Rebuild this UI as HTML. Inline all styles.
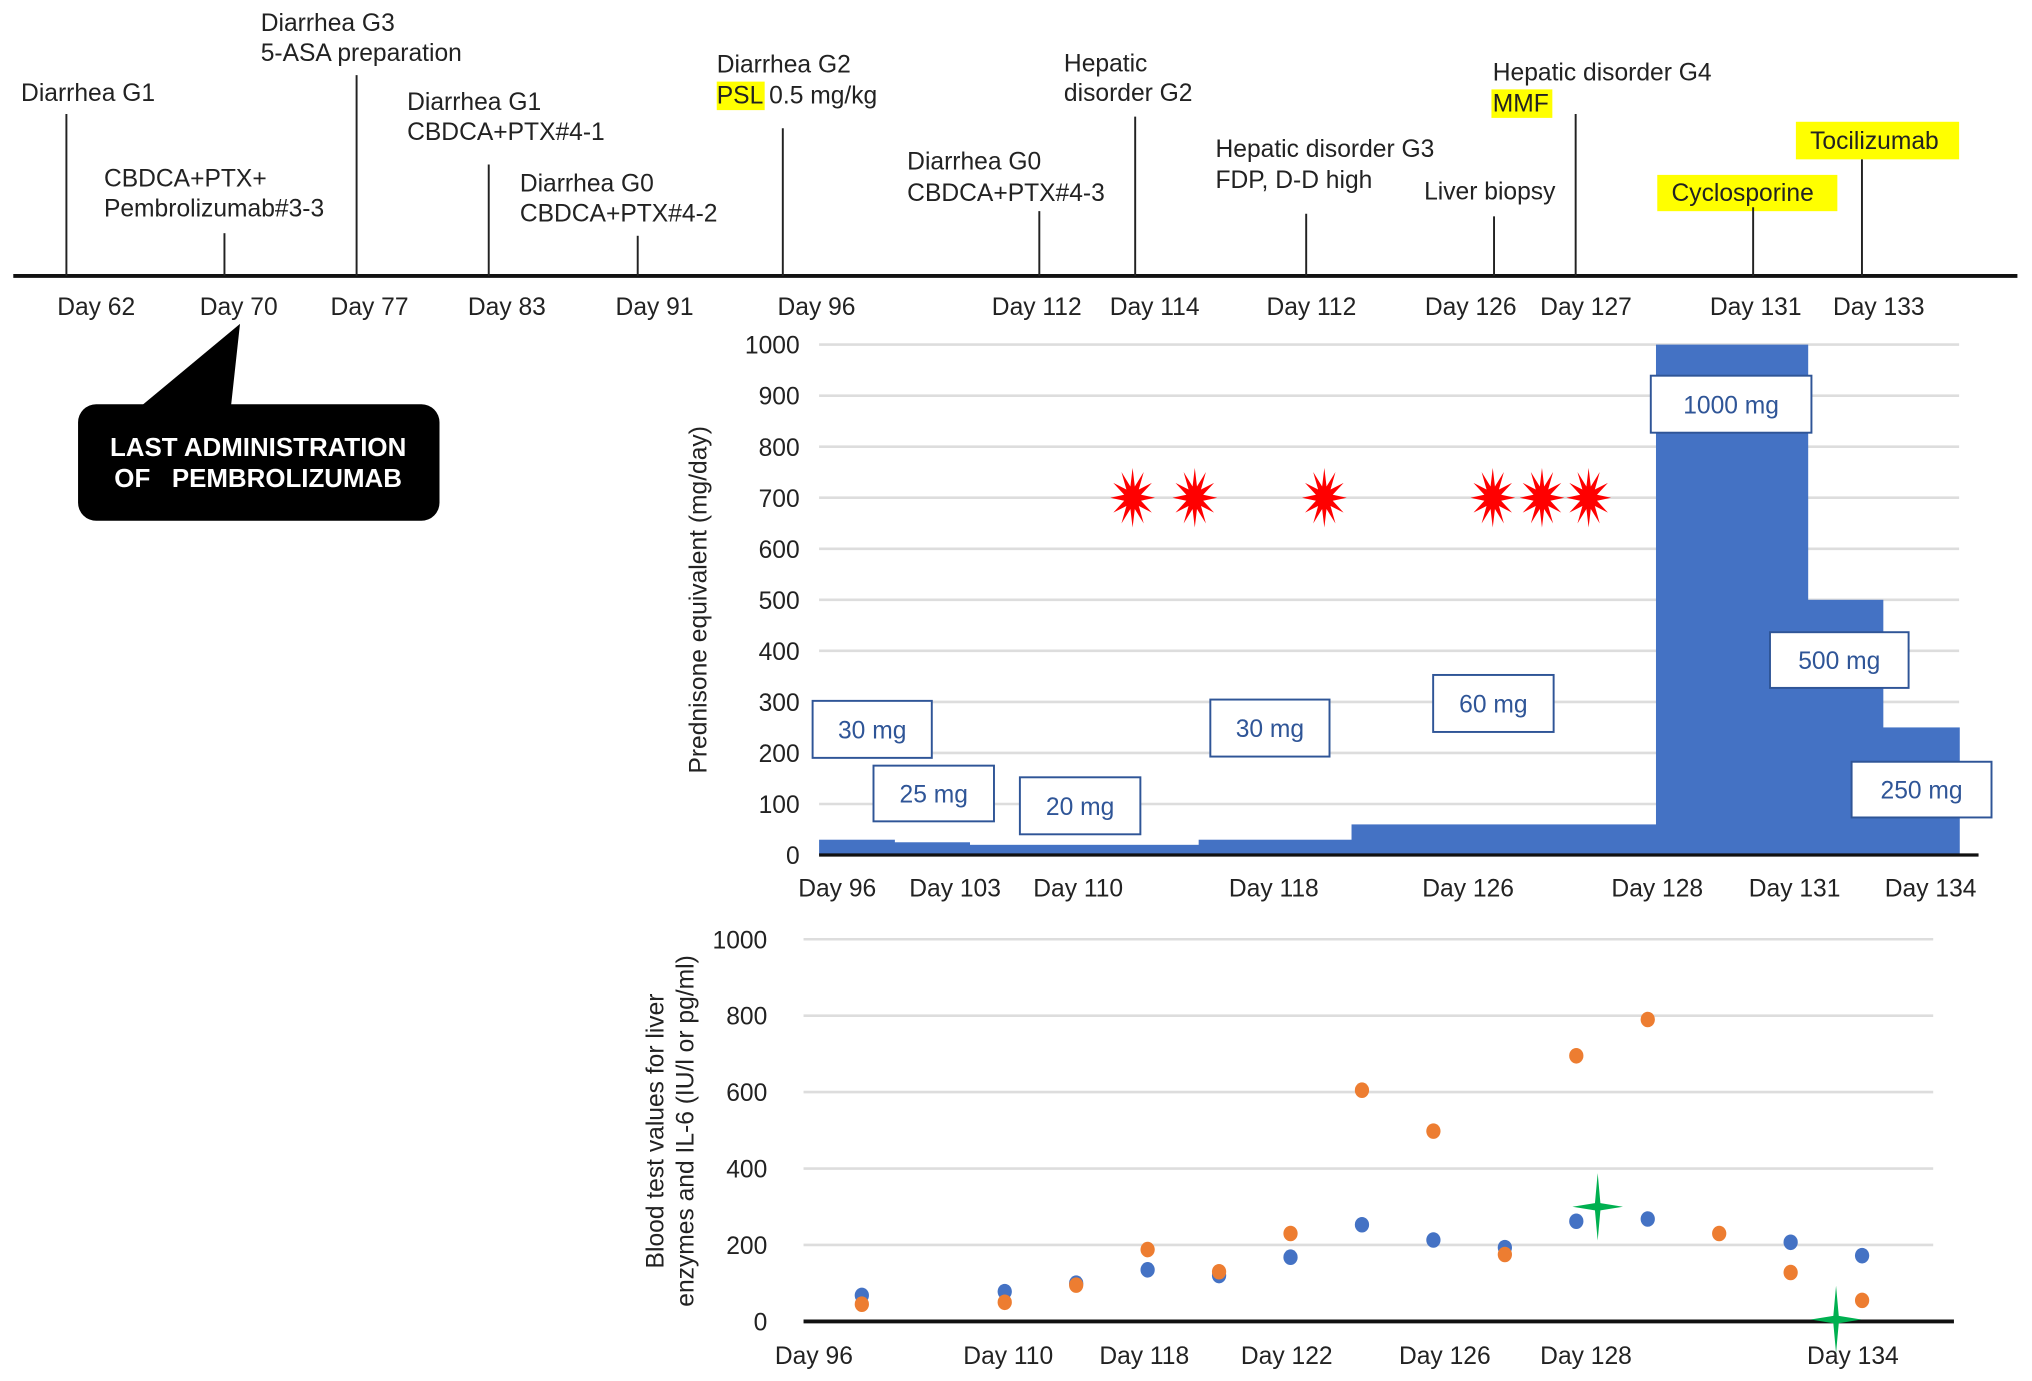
<!DOCTYPE html>
<html><head><meta charset="utf-8"><style>
html,body{margin:0;padding:0;background:#fff;}
svg{display:block;font-family:"Liberation Sans",sans-serif;}
</style></head><body>
<svg id="root" width="2032" height="1381" viewBox="0 0 1568 1066" xmlns="http://www.w3.org/2000/svg">
<g id="timeline">
<line x1="10" y1="213" x2="1557" y2="213" stroke="#111" stroke-width="3"/>
</g>
<g id="callout">
<polygon points="108,314 185,250 178,314" fill="#000"/>
<rect x="60" y="312" width="279" height="90" rx="14" fill="#000"/>
<text x="199" y="352" fill="#fff" font-size="20" font-weight="bold" text-anchor="middle">LAST ADMINISTRATION</text>
<text x="199" y="376" fill="#fff" font-size="20" font-weight="bold" text-anchor="middle" xml:space="preserve">OF   PEMBROLIZUMAB</text>
</g>
<g id="chart1"></g>
<g id="chart2"></g>
</svg>
<script>
// ---- timeline data ----
const tlDays=["Day 62","Day 70","Day 77","Day 83","Day 91","Day 96","Day 112","Day 114","Day 112","Day 126","Day 127","Day 131","Day 133"];
// ---- prednisone chart data ----
const doseValues=[30,25,20,30,60,1000,500,250];
const doseLabels=["30 mg","25 mg","20 mg","30 mg","60 mg","1000 mg","500 mg","250 mg"];
const doseTicks=[0,100,200,300,400,500,600,700,800,900,1000];
const doseDayLabels=["Day 96","Day 103","Day 110","Day 118","Day 126","Day 128","Day 131","Day 134"];
const flareValues=[700,700,700,700,700,700];
// ---- blood test chart data ----
const bloodBlue=[68,null,78,100,135,120,168,253,213,193,262,268,null,207,172];
const bloodOrange=[45,null,50,95,188,130,230,605,498,175,695,790,230,128,55];
const il6Values=[300,5];
const bloodTicks=[0,200,400,600,800,1000];
const bloodDayLabels=["Day 96","Day 110","Day 118","Day 122","Day 126","Day 128","Day 134"];

const FS=19;
const NS="http://www.w3.org/2000/svg";
function mk(parent,tag,attrs,txt){const e=document.createElementNS(NS,tag);for(const k in attrs)e.setAttribute(k,attrs[k]);if(txt!==undefined)e.textContent=txt;parent.appendChild(e);return e;}

// timeline
const tl=document.getElementById('timeline');
const tlX=[51,173,275,377,492,604,802,876,1008,1153,1216,1353,1437];
const tlTop=[88,180,58,127,182,99,163,90,165,167,88,160,123];
const tlLabelX=[74,184,285,391,505,630,800,891,1012,1135,1224,1355,1450];
const evTexts=[
 [[16,78,"Diarrhea G1"]],
 [[80,144,"CBDCA+PTX+"],[80,167,"Pembrolizumab#3-3"]],
 [[201,24,"Diarrhea G3"],[201,47,"5-ASA preparation"]],
 [[314,85,"Diarrhea G1"],[314,108,"CBDCA+PTX#4-1"]],
 [[401,148,"Diarrhea G0"],[401,171,"CBDCA+PTX#4-2"]],
 [[553,56,"Diarrhea G2"],[553,80,"PSL 0.5 mg/kg"]],
 [[700,131,"Diarrhea G0"],[700,155,"CBDCA+PTX#4-3"]],
 [[821,55,"Hepatic"],[821,78,"disorder G2"]],
 [[938,121,"Hepatic disorder G3"],[938,145,"FDP, D-D high"]],
 [[1099,154,"Liver biopsy"]],
 [[1152,62,"Hepatic disorder G4"],[1152,86,"MMF"]],
 [[1290,155,"Cyclosporine"]],
 [[1397,115,"Tocilizumab"]]
];
mk(tl,'rect',{x:553,y:63,width:37,height:22,fill:'#ffff00'});
mk(tl,'rect',{x:1151,y:69,width:47,height:22,fill:'#ffff00'});
mk(tl,'rect',{x:1279,y:135,width:139,height:28,fill:'#ffff00'});
mk(tl,'rect',{x:1386,y:94,width:126,height:29,fill:'#ffff00'});
tlDays.forEach((d,i)=>{
  const ln=mk(tl,'line',{x1:tlX[i],y1:tlTop[i],x2:tlX[i],y2:213,stroke:'#222','stroke-width':1.5});
  
  
  const t=mk(tl,'text',{x:tlLabelX[i],y:243,'font-size':FS,'text-anchor':'middle',fill:'#222'},d);
  
  
  evTexts[i].forEach(e=>{
    const et=mk(tl,'text',{x:e[0],y:e[1],'font-size':FS,fill:'#222'},e[2]);
    
    
  });
});

// chart 1
const c1=document.getElementById('chart1');
const y1=v=>660-v*(660-266)/1000;
const segX=[632,690,748,925,1043,1278,1395,1453,1512];
doseTicks.forEach(t=>{
  if(t>0)mk(c1,'line',{x1:632,y1:y1(t),x2:1512,y2:y1(t),stroke:'#ddd','stroke-width':2});
  const tx=mk(c1,'text',{x:617,y:y1(t)+7,'font-size':FS,'text-anchor':'end',fill:'#222'},t);
  
  
});
doseValues.forEach((v,i)=>{
  const r=mk(c1,'rect',{x:segX[i],y:y1(v),width:segX[i+1]-segX[i]+0.5,height:660-y1(v),fill:'#4472c4'});
  
  
});
mk(c1,'line',{x1:632,y1:660,x2:1527,y2:660,stroke:'#111','stroke-width':2.5});
const boxes=[[627,541,92,44],[674,591,93,43],[787,600,93,44],[934,540,92,44],[1106,521,93,44],[1274,290,124,44],[1366,488,107,43],[1429,588,108,43]];
doseLabels.forEach((l,i)=>{
  const b=boxes[i];
  const g=mk(c1,'g',{});
  
  
  mk(g,'rect',{x:b[0],y:b[1],width:b[2],height:b[3],fill:'#fff',stroke:'#2f5597','stroke-width':1.5});
  mk(g,'text',{x:b[0]+b[2]/2,y:b[1]+b[3]/2+7,'font-size':FS,'text-anchor':'middle',fill:'#2f5597'},l);
});
const dayX1=[646,737,832,983,1133,1279,1385,1490];
doseDayLabels.forEach((d,i)=>{
  const t=mk(c1,'text',{x:dayX1[i],y:692,'font-size':FS,'text-anchor':'middle',fill:'#222'},d);
  
  
});
const flareX=[874,922,1022,1152,1190,1226];
function starPts(cx,cy,n,ro,ri,ry){let p=[];for(let k=0;k<2*n;k++){const a=Math.PI*k/n-Math.PI/2;const r=k%2?ri:ro;p.push((cx+r*Math.cos(a)*0.75).toFixed(1)+','+(cy+r*Math.sin(a)*ry).toFixed(1));}return p.join(' ');}
flareValues.forEach((v,i)=>{
  const s=mk(c1,'polygon',{points:starPts(flareX[i],y1(v),12,23,9,1),fill:'#ff0000'});
  
  
});
const yt1=mk(c1,'text',{x:0,y:0,'font-size':FS,'text-anchor':'middle',fill:'#222',transform:'translate(545,463) rotate(-90)'},'Prednisone equivalent (mg/day)');



// chart 2
const c2=document.getElementById('chart2');
const y2=v=>1020-v*(1020-725)/1000;
const x2=i=>665+i*55.15;
bloodTicks.forEach(t=>{
  if(t>0)mk(c2,'line',{x1:620,y1:y2(t),x2:1492,y2:y2(t),stroke:'#ddd','stroke-width':2});
  const tx=mk(c2,'text',{x:592,y:y2(t)+7,'font-size':FS,'text-anchor':'end',fill:'#222'},t);
  
  
});
mk(c2,'line',{x1:620,y1:1020,x2:1508,y2:1020,stroke:'#111','stroke-width':3});
bloodBlue.forEach((v,i)=>{ if(v===null)return;
  const c=mk(c2,'ellipse',{cx:x2(i),cy:y2(v),rx:5.5,ry:6,fill:'#4472c4'});
  
  
});
bloodOrange.forEach((v,i)=>{ if(v===null)return;
  const c=mk(c2,'ellipse',{cx:x2(i),cy:y2(v),rx:5.5,ry:6,fill:'#ed7d31'});
  
  
});
const il6X=[1233,1417];
il6Values.forEach((v,i)=>{
  const s=mk(c2,'polygon',{points:starPts(il6X[i],y2(v),4,26,4,1),fill:'#00b050'});
  
  
});
const dayX2=[628,778,883,993,1115,1224,1430];
bloodDayLabels.forEach((d,i)=>{
  const t=mk(c2,'text',{x:dayX2[i],y:1053,'font-size':FS,'text-anchor':'middle',fill:'#222'},d);
  
  
});
const yt2=mk(c2,'text',{x:0,y:0,'font-size':FS,'text-anchor':'middle',fill:'#222',transform:'translate(512,873) rotate(-90)'},'Blood test values for liver');


const yt3=mk(c2,'text',{x:0,y:0,'font-size':FS,'text-anchor':'middle',fill:'#222',transform:'translate(535,873) rotate(-90)'},'enzymes and IL-6 (IU/l or pg/ml)');


</script>
</body></html>
